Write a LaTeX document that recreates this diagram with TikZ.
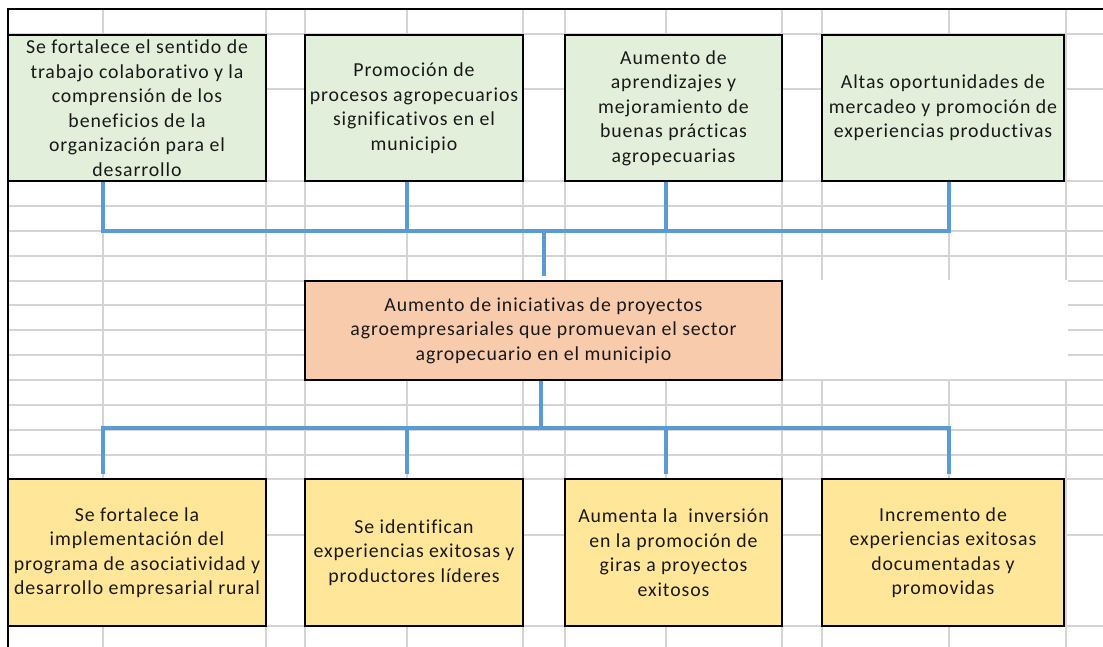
\documentclass[tikz,border=0pt]{standalone}
\usepackage{fontspec}
\setmainfont{Carlito}[LetterSpace=4.6, Ligatures=NoCommon]
\definecolor{gridgray}{RGB}{212, 212, 212}
\definecolor{linkblue}{RGB}{91, 155, 213}
\definecolor{efgreen}{RGB}{226, 239, 218}
\definecolor{midorange}{RGB}{248, 203, 173}
\definecolor{cayellow}{RGB}{255, 230, 153}
\definecolor{txtgray}{RGB}{25, 25, 25}
\usetikzlibrary{calc}

\begin{document}
\begin{tikzpicture}[x=1pt, y=-1pt,
  cell/.style={draw=black, line width=2.6pt, inner sep=0pt, align=center, text=txtgray, font=\fontsize{19.8}{24.5}\selectfont},
  link/.style={draw=linkblue, line width=4pt},
  gridline/.style={draw=gridgray, line width=1.4pt}]
  \useasboundingbox (0,0) rectangle (1103,647);

  % Spreadsheet grid
  \foreach \gy in {34,89,181,206,231,256,281,305,330,355,380,405,430,455,479,535,626}
    \draw[gridline] (8,\gy) -- (1103,\gy);
  \foreach \gx in {103,266,305,407,523,565,666,782,822,949,1066}
    \draw[gridline] (\gx,9) -- (\gx,647);
  \fill[white] (781,280) rectangle (1068,379);
  \draw[black, line width=2.8pt] (1103,9) -- (8,9) -- (8,647);

  % Effects (top row)
  \node[cell, fill=efgreen, minimum width=258, minimum height=146] (efA) at (137,108) {
    Se fortalece el sentido de\\ trabajo colaborativo y la\\ comprensión de los\\ beneficios de la\\ organización para el\\ desarrollo
  };
  \node[cell, fill=efgreen, minimum width=218, minimum height=146] (efB) at (414,108) {
    Promoción de\\ procesos agropecuarios\\ significativos en el\\ municipio
  };
  \node[cell, fill=efgreen, minimum width=217, minimum height=146] (efC) at (673.5,108) {
    Aumento de\\ aprendizajes y\\ mejoramiento de\\ buenas prácticas\\ agropecuarias
  };
  \node[cell, fill=efgreen, minimum width=242, minimum height=146] (efD) at (943,108) {
    Altas oportunidades de\\ mercadeo y promoción de\\ experiencias productivas
  };

  % Central box
  \node[cell, fill=midorange, minimum width=477, minimum height=99] (central) at (543.5,330.5) {
    Aumento de iniciativas de proyectos\\ agroempresariales que promuevan el sector\\ agropecuario en el municipio
  };

  % Causes (bottom row)
  \node[cell, fill=cayellow, minimum width=258, minimum height=147] (caA) at (137,552.5) {
    Se fortalece la\\ implementación del\\ programa de asociatividad y\\ desarrollo empresarial rural
  };
  \node[cell, fill=cayellow, minimum width=218, minimum height=147] (caB) at (414,552.5) {
    Se identifican\\ experiencias exitosas y\\ productores líderes
  };
  \node[cell, fill=cayellow, minimum width=217, minimum height=147] (caC) at (673.5,552.5) {
    Aumenta la~ inversión\\ en la promoción de\\ giras a proyectos\\ exitosos
  };
  \node[cell, fill=cayellow, minimum width=242, minimum height=147] (caD) at (943,552.5) {
    Incremento de\\ experiencias exitosas\\ documentadas y\\ promovidas
  };

  % Connectors
  \coordinate (jA) at (103,231);
  \coordinate (jB) at (407,231);
  \coordinate (jC) at (666,231);
  \coordinate (jD) at (949,231);
  \coordinate (kA) at (103,428);
  \coordinate (kB) at (407,428);
  \coordinate (kC) at (666,428);
  \coordinate (kD) at (949,428);

  \draw[link] (efA.south -| jA) -- (jA) -- (jD) -- (efD.south -| jD);
  \draw[link] (efB.south -| jB) -- (jB);
  \draw[link] (efC.south -| jC) -- (jC);
  \draw[link, shorten >=4pt] (central.north |- jA) -- (central.north);

  \draw[link] ([xshift=-3pt]central.south) -- ([xshift=-3pt]central.south |- kA);
  \draw[link, shorten <=4pt, shorten >=4pt] (caA.north -| kA) -- (kA) -- (kD) -- (caD.north -| kD);
  \draw[link, shorten <=4pt] (caB.north -| kB) -- (kB);
  \draw[link, shorten <=4pt] (caC.north -| kC) -- (kC);
\end{tikzpicture}
\end{document}
